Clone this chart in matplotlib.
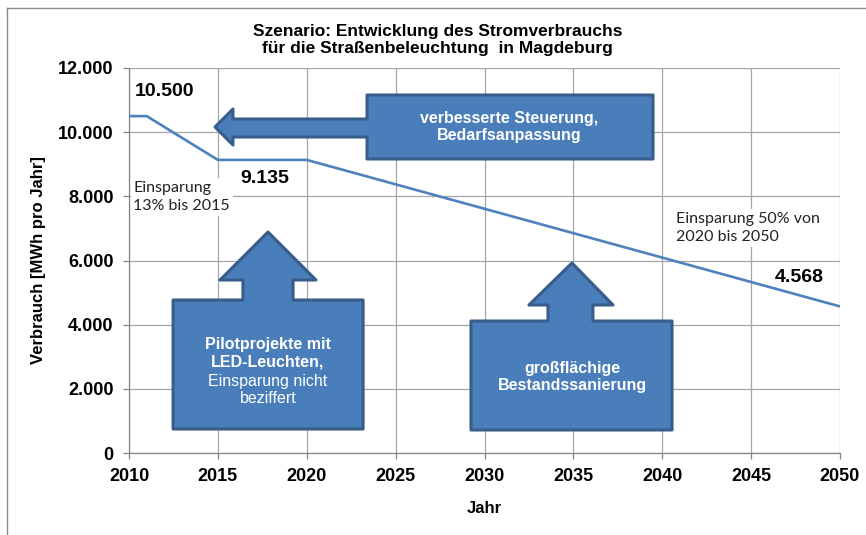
import matplotlib
matplotlib.use("Agg")
import matplotlib.pyplot as plt
from matplotlib.patches import Polygon
from matplotlib.lines import Line2D
from matplotlib.ticker import FuncFormatter

# ---- data ----
years = [2010, 2011, 2015, 2020, 2050]
consumption = [10500, 10500, 9135, 9135, 4568]
x_ticks = [2010, 2015, 2020, 2025, 2030, 2035, 2040, 2045, 2050]
y_ticks = [0, 2000, 4000, 6000, 8000, 10000, 12000]
value_labels = ["10.500", "9.135", "4.568"]
title = "Szenario: Entwicklung des Stromverbrauchs\nfür die Straßenbeleuchtung  in Magdeburg"
xlabel = "Jahr"
ylabel = "Verbrauch [MWh pro Jahr]"

LINE = "#4F81BD"
FILL = "#4A7EBB"
EDGE = "#385D8A"
GRID = "#A6A6A6"

plt.rcParams['font.family'] = ['Liberation Sans', 'DejaVu Sans']

fig = plt.figure(figsize=(8.66, 5.35), dpi=100)
ax = fig.add_axes([129/866, 1-453/535, 711/866, 385/535])

ax.plot(years, consumption, color=LINE, lw=1.9, solid_capstyle='butt', zorder=3)

ax.set_xlim(2010, 2050)
ax.set_ylim(0, 12000)
ax.set_xticks(x_ticks)
ax.set_yticks(y_ticks)
ax.yaxis.set_major_formatter(FuncFormatter(lambda v, p: f"{int(v):,}".replace(",", ".")))
ax.grid(True, color=GRID, lw=0.9, zorder=0)
ax.set_axisbelow(True)
for s in ['top', 'right']:
    ax.spines[s].set_visible(False)
for s in ['left', 'bottom']:
    ax.spines[s].set_color("#868686")
    ax.spines[s].set_linewidth(0.9)
ax.tick_params(axis='both', direction='out', length=4, color="#868686", width=0.9,
               labelsize=13, pad=7)
for lab in ax.get_xticklabels() + ax.get_yticklabels():
    lab.set_fontweight('bold')
ax.set_xlabel(xlabel, fontsize=12, fontweight='bold', labelpad=11)
ax.set_ylabel(ylabel, fontsize=12, fontweight='bold', labelpad=9)

fig.text(0.505, 1-40/535, title, ha='center', va='center', fontsize=12.5,
         fontweight='bold', linespacing=1.2)

# frame lines of the original figure
fig.add_artist(Line2D([7/866, 1], [1-8/535, 1-8/535], color="#8C8C8C", lw=1.0))
fig.add_artist(Line2D([7/866, 7/866], [0, 1-8/535], color="#8C8C8C", lw=1.0))

# ---- callout shapes (data coordinates) ----
left_callout = [(2023.39, 11158), (2039.48, 11158), (2039.48, 9164), (2023.39, 9164),
                (2023.39, 9849), (2015.85, 9849), (2015.85, 9600), (2014.84, 10161),
                (2015.85, 10722), (2015.85, 10410), (2023.39, 10410)]
up1 = [(2012.48, 4769), (2016.41, 4769), (2016.41, 5392), (2015.12, 5392), (2017.82, 6888),
       (2020.52, 5392), (2019.23, 5392), (2019.23, 4769), (2023.17, 4769), (2023.17, 748),
       (2012.48, 748)]
up2 = [(2029.24, 4114), (2033.57, 4114), (2033.57, 4613), (2032.50, 4613), (2034.92, 5922),
       (2037.23, 4613), (2036.10, 4613), (2036.10, 4114), (2040.55, 4114), (2040.55, 717),
       (2029.24, 717)]
for pts in (left_callout, up1, up2):
    ax.add_patch(Polygon(pts, closed=True, facecolor=FILL, edgecolor=EDGE, lw=2.2,
                         joinstyle='round', zorder=4, clip_on=False))

ax.text(2031.4, 10161, "verbesserte Steuerung,\nBedarfsanpassung", color='white',
        fontsize=11.5, fontweight='bold', ha='center', va='center', linespacing=1.2, zorder=5)
ax.text(2017.82, 3100, "Pilotprojekte mit\nLED-Leuchten,", color='white',
        fontsize=11.5, fontweight='bold', ha='center', va='center', linespacing=1.2, zorder=5)
ax.text(2017.82, 1960, "Einsparung nicht\nbeziffert", color='white',
        fontsize=11.5, ha='center', va='center', linespacing=1.2, zorder=5)
ax.text(2034.92, 2369, "großflächige\nBestandssanierung", color='white',
        fontsize=11.5, fontweight='bold', ha='center', va='center', linespacing=1.2, zorder=5)

# value labels
label_pos = [(2010.34, 11252), (2016.25, 8571), (2046.34, 5455)]
for (lx, ly), txt in zip(label_pos, value_labels):
    ax.text(lx, ly, txt, fontsize=14, fontweight='bold', ha='left', va='center', zorder=5)

note_kw = dict(fontsize=11.5, family=['Lato', 'DejaVu Sans'], color='#222222', ha='left',
               va='center', linespacing=1.35, zorder=5,
               bbox=dict(facecolor='white', edgecolor='none', pad=2))
ax.text(2010.25, 7979, "Einsparung\n13% bis 2015", **note_kw)
ax.text(2040.8, 7013, "Einsparung 50% von\n2020 bis 2050", **note_kw)

fig.savefig("out.png", dpi=100)
